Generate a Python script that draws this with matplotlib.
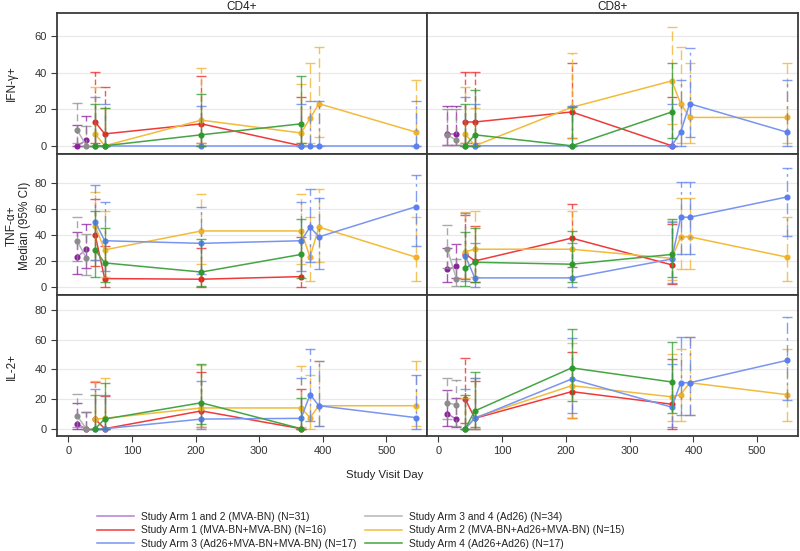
import numpy as np
import matplotlib.pyplot as plt

plt.rcParams['font.family'] = ['Liberation Sans', 'DejaVu Sans']

# study days for each kind of arm
days_prime = [14, 28]
days_short = [42, 57, 209, 366]
days_long = [42, 57, 209, 366, 380, 394, 546]

arms = ["Study Arm 1 and 2 (MVA-BN) (N=31)",
        "Study Arm 3 and 4 (Ad26) (N=34)",
        "Study Arm 1 (MVA-BN+MVA-BN) (N=16)",
        "Study Arm 2 (MVA-BN+Ad26+MVA-BN) (N=15)",
        "Study Arm 3 (Ad26+MVA-BN+MVA-BN) (N=17)",
        "Study Arm 4 (Ad26+Ad26) (N=17)"]
arm_days = [days_prime, days_prime, days_short, days_long, days_long, days_short]
colors = ['#8c1f9e', '#8c8c8c', '#f02020', '#f0b028', '#5a7ff0', '#2e9a2e']
line_colors = ['#b57fd0', '#b5b5b5', '#f03a3a', '#f2bb3a', '#7a95f0', '#45a545']

# (median, lower, upper) per arm, same order as arms
cd4_ifn = [([0, 3], [0, 0], [11.5, 16.5]),
           ([8.5, 0], [1.5, 0], [23.5, 11]),
           ([13, 6.5, 12, 0], [1.5, 0, 1.5, 0], [40.5, 32, 38, 26.5]),
           ([6.5, 0, 14, 7, 15, 23, 7.5], [0, 0, 1.5, 1.5, 1.5, 5, 0], [32, 20.5, 42.5, 34, 45, 54, 36]),
           ([0, 0, 0, 0, 0, 0, 0], [0, 0, 0, 0, 0, 0, 0], [26.5, 23, 22, 23, 24.5, 24.5, 24.5]),
           ([0, 0, 6, 12], [0, 0, 0, 1.5], [23, 20.5, 28.5, 38])]
cd8_ifn = [([6.5, 6.5], [0.5, 0.5], [22, 21.5]),
           ([6, 3], [0.5, 0.5], [20, 20]),
           ([13, 13, 18.5, 0], [1.5, 1.5, 4, 0], [40.5, 40.5, 45.5, 26.5]),
           ([6.5, 0, 21, 35.5, 23, 15.5, 15.5], [1.5, 0, 4, 12, 1.5, 1.5, 1.5], [32, 20.5, 50.5, 65, 54, 45.5, 45.5]),
           ([0, 0, 0, 0, 7.5, 23, 7.5], [0, 0, 0, 0, 0, 5, 0], [26.5, 23, 21.5, 23, 36, 53.5, 36]),
           ([0, 6, 0, 18.5], [0, 0, 0, 4], [23, 30.5, 21, 45.5])]
cd4_tnf = [([23, 29], [10, 14.5], [42, 48]),
           ([35, 22.5], [20, 9.5], [53.5, 41]),
           ([40, 6.5, 6, 8], [16, 0, 0, 0], [67.5, 31.5, 30, 38.5]),
           ([46.5, 28.5, 43, 43, 23, 46, 23], [21, 8, 17.5, 17.5, 5, 19, 5], [73, 58, 71, 71, 53.5, 75, 53.5]),
           ([50, 35.5, 33.5, 35.5, 46, 38.5, 61.5], [21, 12.5, 10, 12.5, 19, 14, 31.5], [78.5, 65, 61.5, 65, 75, 68.5, 86]),
           ([28.5, 18.5, 11.5, 25], [8, 3.5, 1, 7], [58, 45.5, 36.5, 52.5])]
cd8_tnf = [([13.5, 16], [3.5, 7], [30, 33]),
           ([29, 6.5], [14.5, 0.5], [47.5, 21.5]),
           ([25.5, 20, 37.5, 17], [6, 3.5, 15, 2], [55, 47, 64, 48]),
           ([27, 29, 29, 22, 38.5, 38.5, 23], [7, 7.5, 7.5, 5.5, 14, 14, 5], [57.5, 58, 58, 50.5, 68.5, 68.5, 53.5]),
           ([24, 7, 7, 21.5, 53.5, 53.5, 69], [5, 0, 0, 3, 25, 25, 39], [57, 34, 34, 50, 80.5, 80.5, 91]),
           ([14.5, 19, 17.5, 25], [1, 4, 4, 7.5], [42, 45, 43, 52])]
cd4_il2 = [([3, 0], [0, 0], [17, 11]),
           ([8.5, 0], [1.5, 0], [23.5, 11]),
           ([6.5, 0, 12, 0], [0, 0, 1.5, 0], [31.5, 22, 38, 26.5]),
           ([6.5, 7, 14, 14, 7.5, 15.5, 15.5], [0, 0, 1.5, 1.5, 0, 2, 2], [32, 34, 43, 42.5, 36, 45.5, 45.5]),
           ([0, 0, 6.5, 7, 23, 15.5, 7.5], [0, 0, 0, 0, 5, 2, 0], [26.5, 23, 32, 34, 54, 45.5, 36]),
           ([0, 6.5, 17.5, 0], [0, 0, 3.5, 0], [23, 30.5, 43.5, 20.5])]
cd8_il2 = [([10, 6.5], [2, 1], [26, 21]),
           ([17.5, 16], [6.5, 2], [34, 33]),
           ([20, 7, 25, 16.5], [4, 0, 7, 0], [47.5, 32, 52, 47]),
           ([0, 7.5, 29, 21.5, 23, 31, 23], [0, 0, 7.5, 5, 5, 9, 5], [21, 34, 58, 50.5, 54, 61.5, 54]),
           ([0, 7, 33.5, 14.5, 31, 31, 46], [0, 0, 10.5, 1, 9, 9, 19.5], [26.5, 34, 61, 43.5, 61.5, 61.5, 75]),
           ([0, 12, 41, 31.5], [0, 1, 18.5, 10.5], [23, 38, 67, 58.5])]

panels = [[cd4_ifn, cd8_ifn], [cd4_tnf, cd8_tnf], [cd4_il2, cd8_il2]]
row_ylim = [(-4.5, 72.6), (-6.1, 102), (-4.9, 90.1)]
row_ticks = [[0, 20, 40, 60], [0, 20, 40, 60, 80], [0, 20, 40, 60, 80]]
row_labels = ["IFN-\u03b3+", "TNF-\u03b1+\nMedian (95% CI)", "IL-2+"]
col_titles = ["CD4+", "CD8+"]
x_ticks = [0, 100, 200, 300, 400, 500]

W, H = 800, 551
fig = plt.figure(figsize=(8, 5.51), dpi=100)

def box(x0, y0, x1, y1):
    return [x0 / W, 1 - y1 / H, (x1 - x0) / W, (y1 - y0) / H]

cols_px = [(57, 427), (427, 798)]
rows_px = [(13, 154), (154, 295), (295, 436)]
err_styles = [(0, (6, 3)), (0, (5, 3)), (0, (4, 2)), (0, (7, 3)), (0, (8, 3, 2, 3)), '-']

handles = []
for r in range(3):
    for c in range(2):
        ax = fig.add_axes(box(cols_px[c][0], rows_px[r][0], cols_px[c][1], rows_px[r][1]))
        for i, (med, lo, hi) in enumerate(panels[r][c]):
            d = np.array(arm_days[i])
            med = np.array(med)
            yerr = [med - np.array(lo), np.array(hi) - med]
            eb = ax.errorbar(d, med, yerr=yerr, fmt='none', ecolor=colors[i],
                             elinewidth=1.0, capsize=3.5, capthick=1.0, alpha=0.75, zorder=2 + i)
            eb[2][0].set_linestyle(err_styles[i])
            ln, = ax.plot(d, med, color=line_colors[i], lw=1.1, zorder=3 + i)
            ax.plot(d, med, 'o', color=colors[i], ms=3.4, zorder=3 + i)
            if r == 0 and c == 0:
                handles.append(ln)
        ax.set_xlim(-18, 564)
        ax.set_ylim(*row_ylim[r])
        ax.set_yticks(row_ticks[r])
        ax.set_xticks(x_ticks)
        ax.grid(axis='y', color='#e9e9e9', lw=0.9)
        ax.set_axisbelow(True)
        for s in ax.spines.values():
            s.set_color('#3a3a3a')
            s.set_linewidth(1.3)
        ax.tick_params(colors='#3a3a3a', labelcolor='#333333', labelsize=8, length=4, width=0.8)
        if c == 1:
            ax.tick_params(axis='y', left=False, labelleft=False)
        if r < 2:
            ax.tick_params(axis='x', bottom=False, labelbottom=False)
        if r == 0:
            ax.set_title(col_titles[c], fontsize=8.5, color='#222222', pad=1.5)

fig.text(12 / W, 1 - 83 / H, row_labels[0], rotation=90, ha='center', va='center', fontsize=8.5, color='#222222')
fig.text(18 / W, 1 - 226 / H, row_labels[1], rotation=90, ha='center', va='center', fontsize=8.5,
         color='#222222', multialignment='center', linespacing=1.15)
fig.text(12 / W, 1 - 366 / H, row_labels[2], rotation=90, ha='center', va='center', fontsize=8.5, color='#222222')
fig.text(385 / W, 1 - 475 / H, "Study Visit Day", ha='center', va='center', fontsize=8.2, color='#222222')

order = [0, 2, 4, 1, 3, 5]
fig.legend([handles[k] for k in order], [arms[k] for k in order], ncol=2, frameon=False,
           loc='upper left', bbox_to_anchor=(97 / W, 1 - 512 / H), fontsize=7.4,
           handlelength=3.6, handletextpad=0.65, columnspacing=0.9, labelspacing=0.32, borderpad=0,
           borderaxespad=0, labelcolor='#222222')

fig.savefig("out.png", dpi=100)
